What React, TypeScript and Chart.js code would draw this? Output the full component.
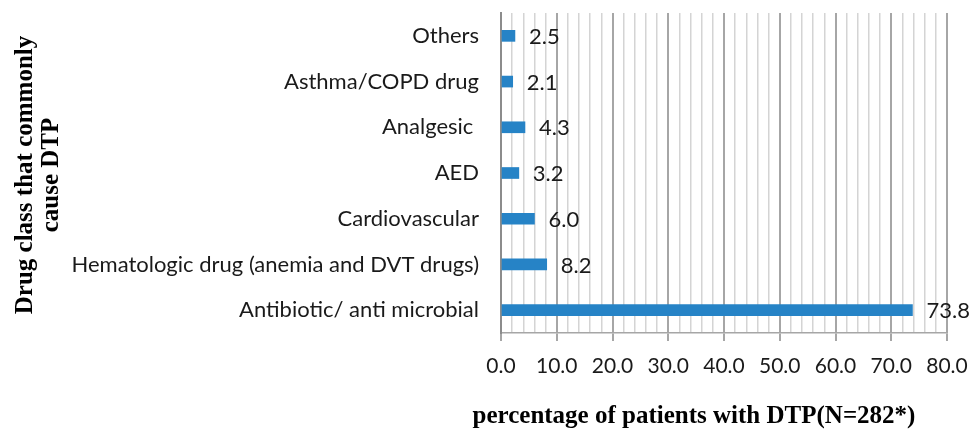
import React, { useEffect, useRef } from "react";
import { Chart, registerables } from "chart.js";

Chart.register(...registerables);

const categories = [
  "Others",
  "Asthma/COPD drug",
  "Analgesic ",
  "AED",
  "Cardiovascular",
  "Hematologic drug (anemia and DVT drugs)",
  "Antibiotic/ anti microbial",
];
const values = [2.5, 2.1, 4.3, 3.2, 6.0, 8.2, 73.8];
const xTitle = "percentage of patients with DTP(N=282*)";
const yTitle = ["Drug class that commonly", "cause DTP"];

const SANS = "Lato, 'Open Sans', sans-serif";
const SERIF = "'Liberation Serif', 'DejaVu Serif', serif";

const labelPlugin = {
  id: "customLabels",
  afterDatasetsDraw(chart: any) {
    const ctx = chart.ctx;
    const meta = chart.getDatasetMeta(0);
    ctx.save();
    ctx.font = `22px ${SANS}`;
    ctx.fillStyle = "#1a1a1a";
    ctx.textAlign = "left";
    ctx.textBaseline = "middle";
    meta.data.forEach((bar: any, i: number) => {
      ctx.fillText(values[i].toFixed(1), bar.x + 14, bar.y + 1);
    });
    ctx.restore();
  },
  afterDraw(chart: any) {
    const ctx = chart.ctx;
    ctx.save();
    ctx.fillStyle = "#000";
    ctx.font = `bold 25px ${SERIF}`;
    ctx.textAlign = "center";
    ctx.textBaseline = "alphabetic";
    ctx.fillText(xTitle, 694, 423);
    ctx.font = `bold 25px ${SERIF}`;
    const cy = 175;
    ctx.translate(0, cy);
    ctx.rotate(-Math.PI / 2);
    ctx.fillText(yTitle[0], 0, 32);
    ctx.fillText(yTitle[1], 0, 58);
    ctx.restore();
  },
};

export default function App() {
  const ref = useRef<HTMLCanvasElement>(null);
  useEffect(() => {
    if (!ref.current) return;
    const chart = new Chart(ref.current, {
      type: "bar",
      data: {
        labels: categories,
        datasets: [
          {
            data: values,
            backgroundColor: "#2683C6",
            borderWidth: 0,
            barThickness: 11,
          },
        ],
      },
      plugins: [labelPlugin],
      options: {
        indexAxis: "y",
        animation: false,
        responsive: true,
        maintainAspectRatio: false,
        layout: { padding: { top: 13, right: 23, left: 0, bottom: 0 } },
        plugins: {
          legend: { display: false },
          tooltip: { enabled: false },
          title: { display: false },
        },
        scales: {
          x: {
            min: 0,
            max: 80,
            afterFit: (s: any) => {
              s.height = 101;
              s.paddingLeft = 0;
              s.paddingRight = 0;
            },
            ticks: {
              stepSize: 2,
              autoSkip: false,
              maxRotation: 0,
              padding: 13,
              color: "#1a1a1a",
              font: { family: SANS, size: 21 },
              callback: (v: any) => (Number(v) % 10 === 0 ? Number(v).toFixed(1) : ""),
            },
            grid: {
              color: (c: any) => (c.tick && c.tick.value % 10 === 0 ? "#a6a6a6" : "#d4d4d4"),
              lineWidth: (c: any) => (c.tick && c.tick.value % 10 === 0 ? 2 : 1.5),
              tickLength: 8,
              tickColor: (c: any) => (c.tick && c.tick.value % 10 === 0 ? "#a6a6a6" : "rgba(0,0,0,0)"),
            },
            border: { display: true, color: "#a6a6a6", width: 1.5 },
          },
          y: {
            afterFit: (s: any) => {
              s.width = 501;
              s.paddingTop = 0;
              s.paddingBottom = 0;
            },
            ticks: {
              padding: 22,
              color: "#1a1a1a",
              font: { family: SANS, size: 22 },
            },
            grid: { display: false, drawTicks: false },
            border: { display: true, color: "#8c8c8c", width: 2 },
          },
        },
      },
    });
    return () => chart.destroy();
  }, []);
  return (
    <div style={{ position: "fixed", left: 0, top: 0, width: 970, height: 434, background: "#fff" }}>
      <canvas ref={ref} />
    </div>
  );
}
